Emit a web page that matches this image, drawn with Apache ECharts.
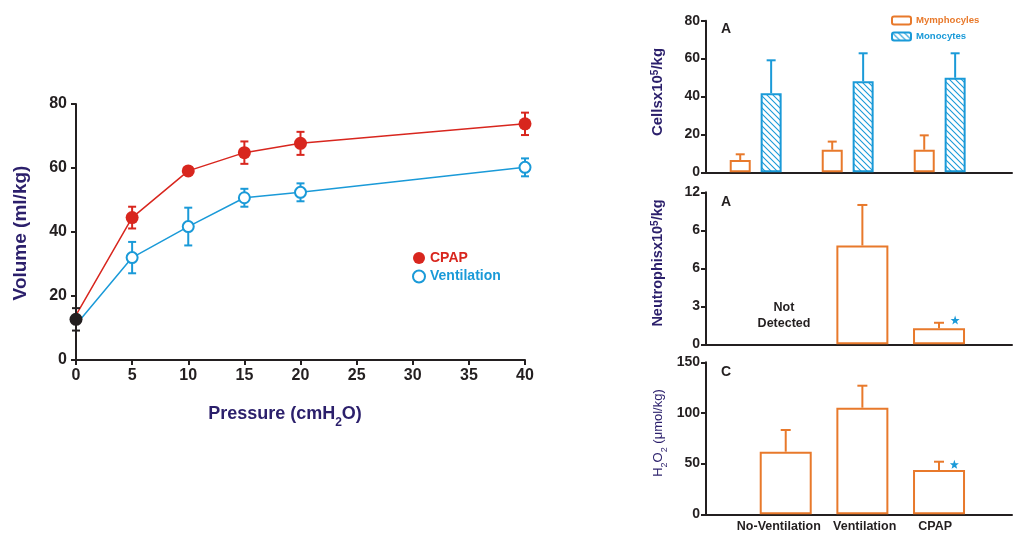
<!DOCTYPE html>
<html>
<head>
<meta charset="utf-8">
<script src="https://cdn.jsdelivr.net/npm/echarts@6/dist/echarts.min.js"></script>
<style>
  html, body { margin: 0; padding: 0; background: #fff; }
  #main { width: 1013px; height: 539px; }
</style>
</head>
<body>
<div id="main"></div>
<script>
// ---- data ----
// left: volume vs pressure
const pressure = [0, 5, 10, 15, 20, 40];
const cpapVolume = [14, 44.5, 59.1, 64.8, 67.7, 73.8];
const cpapErr = [0, 3.4, 1, 3.5, 3.6, 3.5];
const ventVolume = [11, 32.0, 41.7, 50.7, 52.4, 60.2];
const ventErr = [0, 4.9, 5.9, 2.8, 2.8, 2.8];
const baseVolume = [12.7];
const baseErr = [3.5];

// right top: cells
const cellGroups = [1, 2, 3];
const lymphocytes = [6.5, 11.9, 11.9];
const lymphErr = [3.0, 4.3, 7.6];
const monocytes = [41.7, 48.0, 49.9];
const monoErr = [17.4, 14.8, 12.9];

// right middle / bottom
const groups = ['No-Ventilation', 'Ventilation', 'CPAP'];
const neutrophils = [null, 7.8, 1.26];
const neutErr = [null, 3.2, 0.44];
const neutTicks = ['0', '3', '6', '6', '12'];
const h2o2 = [61.8, 105.2, 43.7];
const h2o2Err = [21.4, 21.7, 8.2];
const neutStar = [[3.21, 1.92]];
const h2o2Star = [[3.20, 49.3]];

const RED = '#d8261e';
const BLUE = '#1a9ad8';
const ORANGE = '#e8792b';
const INK = '#231f20';
const NAVY = '#2b1f6b';
const FONT = '"Liberation Sans", Arial, sans-serif';
const STAR = 'path://M12 0 L15 9 L24 9 L17 14.5 L19.5 23 L12 18 L4.5 23 L7 14.5 L0 9 L9 9 Z';
// where the category names sit under the bottom panel (slightly off the bar centres, as printed)
const labelPos = [0.91, 2.03, 2.95];

// hatch pattern for monocytes
function hatch() {
    const c = document.createElement('canvas');
    c.width = 6; c.height = 6;
    const g = c.getContext('2d');
    g.fillStyle = '#fff';
    g.fillRect(0, 0, 6, 6);
    g.strokeStyle = BLUE;
    g.lineWidth = 1.1;
    g.beginPath();
    g.moveTo(-1, -1); g.lineTo(7, 7);
    g.moveTo(-4, 2); g.lineTo(4, 10);
    g.moveTo(2, -4); g.lineTo(10, 4);
    g.stroke();
    return { image: c, repeat: 'repeat' };
}

// error bar drawn through the axes
function errRender(color, cap) {
    return function (params, api) {
        const x = api.value(0), lo = api.value(1), hi = api.value(2), both = api.value(3);
        const a = api.coord([x, hi]);
        const b = api.coord([x, lo]);
        const st = () => ({ stroke: color, lineWidth: 2 });
        const ch = [
            { type: 'line', shape: { x1: a[0], y1: a[1], x2: b[0], y2: b[1] }, style: st() },
            { type: 'line', shape: { x1: a[0] - cap, y1: a[1], x2: a[0] + cap, y2: a[1] }, style: st() }
        ];
        if (both) {
            ch.push({ type: 'line', shape: { x1: b[0] - cap, y1: b[1], x2: b[0] + cap, y2: b[1] }, style: st() });
        }
        return { type: 'group', children: ch };
    };
}

function errSeries(name, xi, yi, data, color, cap, z) {
    return {
        name: name, type: 'custom', xAxisIndex: xi, yAxisIndex: yi, z: z || 1,
        renderItem: errRender(color, cap),
        encode: { x: 0, y: [1, 2] },
        data: data, silent: true
    };
}

const cpapErrData = pressure.map((p, i) => [p, cpapVolume[i] - cpapErr[i], cpapVolume[i] + cpapErr[i], 1]).slice(1);
const ventErrData = pressure.map((p, i) => [p, ventVolume[i] - ventErr[i], ventVolume[i] + ventErr[i], 1]).slice(1);
const baseErrData = baseVolume.map((v, i) => [0, v - baseErr[i], v + baseErr[i], 1]);

const lymphX = cellGroups.map(g => g - 0.168);
const monoX = cellGroups.map(g => g + 0.168);

const axisLine = { show: true, onZero: false, lineStyle: { color: INK, width: 2 } };
const tickLabel = (size) => ({ color: INK, fontWeight: 'bold', fontSize: size, fontFamily: FONT });

function rightX(idx, min, max, labels) {
    return {
        type: 'value', gridIndex: idx, min: min, max: max,
        axisLine: axisLine, axisTick: { show: false }, splitLine: { show: false },
        axisLabel: labels ? Object.assign(tickLabel(12.5), {
            margin: 6, customValues: labelPos,
            formatter: v => {
                const i = labelPos.findIndex(p => Math.abs(p - v) < 0.05);
                return i >= 0 ? groups[i] : '';
            }
        }) : { show: false }
    };
}
function rightY(idx, max, interval, fmt) {
    return {
        type: 'value', gridIndex: idx, min: 0, max: max, interval: interval,
        axisLine: axisLine, axisTick: { show: true, length: 5, lineStyle: { color: INK, width: 2 } },
        splitLine: { show: false },
        axisLabel: Object.assign(tickLabel(14), { margin: 6 }, fmt ? { formatter: fmt } : {})
    };
}

const chart = echarts.init(document.getElementById('main'));
const option = {
    animation: false,
    textStyle: { fontFamily: FONT },
    grid: [
        { left: 76, top: 104, width: 449, height: 256, outerBoundsMode: 'none' },
        { left: 706, top: 20.7, width: 306, height: 151.6, outerBoundsMode: 'none' },
        { left: 706, top: 192.3, width: 306, height: 152, outerBoundsMode: 'none' },
        { left: 706, top: 362.3, width: 306, height: 152, outerBoundsMode: 'none' }
    ],
    xAxis: [
        {
            type: 'value', gridIndex: 0, min: 0, max: 40, interval: 5,
            axisLine: axisLine, axisTick: { show: true, length: 5, lineStyle: { color: INK, width: 2 } },
            splitLine: { show: false },
            axisLabel: Object.assign(tickLabel(16), { margin: 8 })
        },
        rightX(1, 0.46, 3.786, false),
        rightX(2, -0.04, 3.952, false),
        rightX(3, -0.04, 3.952, true)
    ],
    yAxis: [
        {
            type: 'value', gridIndex: 0, min: 0, max: 80, interval: 20,
            axisLine: axisLine, axisTick: { show: true, length: 5, lineStyle: { color: INK, width: 2 } },
            splitLine: { show: false },
            axisLabel: Object.assign(tickLabel(16), { margin: 9 })
        },
        rightY(1, 80, 20),
        rightY(2, 12, 3, v => neutTicks[Math.round(v / 3)]),
        rightY(3, 150, 50)
    ],
    legend: [
        {
            orient: 'vertical', left: 407, top: 246, itemWidth: 12, itemHeight: 12, itemGap: 4.5,
            textStyle: { fontSize: 14, fontWeight: 'bold', fontFamily: FONT },
            data: [
                { name: 'CPAP', icon: 'circle', textStyle: { color: RED } },
                { name: 'Ventilation', icon: 'emptyCircle', textStyle: { color: BLUE } }
            ],
            selectedMode: false
        },
        {
            orient: 'vertical', left: 886, top: 10.5, itemWidth: 19, itemHeight: 8, itemGap: 6,
            textStyle: { fontSize: 9.6, fontWeight: 'bold', fontFamily: FONT },
            data: [
                { name: 'Mymphocyles', textStyle: { color: ORANGE } },
                { name: 'Monocytes', textStyle: { color: BLUE } }
            ],
            selectedMode: false
        }
    ],
    series: [
        errSeries('cpapErr', 0, 0, cpapErrData, RED, 4),
        errSeries('ventErr', 0, 0, ventErrData, BLUE, 4),
        {
            name: 'CPAP', type: 'line', xAxisIndex: 0, yAxisIndex: 0, z: 2,
            data: pressure.map((p, i) => i === 0 ? { value: [p, cpapVolume[i]], symbol: 'none' } : [p, cpapVolume[i]]),
            symbol: 'circle', symbolSize: 13,
            itemStyle: { color: RED },
            lineStyle: { color: RED, width: 1.5 }
        },
        {
            name: 'Ventilation', type: 'line', xAxisIndex: 0, yAxisIndex: 0, z: 2,
            data: pressure.map((p, i) => i === 0 ? { value: [p, ventVolume[i]], symbol: 'none' } : [p, ventVolume[i]]),
            symbol: 'emptyCircle', symbolSize: 11,
            itemStyle: { color: BLUE, borderColor: BLUE, borderWidth: 2 },
            lineStyle: { color: BLUE, width: 1.5 }
        },
        errSeries('baseErr', 0, 0, baseErrData, INK, 4, 3),
        {
            name: 'Baseline', type: 'scatter', xAxisIndex: 0, yAxisIndex: 0, z: 4,
            data: baseVolume.map(v => [0, v]),
            symbol: 'circle', symbolSize: 13, itemStyle: { color: INK, opacity: 1 }
        },

        // cells panel
        {
            name: 'Mymphocyles', type: 'bar', xAxisIndex: 1, yAxisIndex: 1,
            data: lymphX.map((x, i) => [x, lymphocytes[i]]),
            barWidth: 21, barGap: '-100%',
            itemStyle: { color: '#fff', borderColor: ORANGE, borderWidth: 2 }
        },
        {
            name: 'Monocytes', type: 'bar', xAxisIndex: 1, yAxisIndex: 1,
            data: monoX.map((x, i) => [x, monocytes[i]]),
            barWidth: 21, barGap: '-100%',
            itemStyle: { color: hatch(), borderColor: BLUE, borderWidth: 2 }
        },
        errSeries('lymphErr', 1, 1, lymphX.map((x, i) => [x, lymphocytes[i], lymphocytes[i] + lymphErr[i], 0]), ORANGE, 4.5),
        errSeries('monoErr', 1, 1, monoX.map((x, i) => [x, monocytes[i], monocytes[i] + monoErr[i], 0]), BLUE, 4.5),

        // neutrophils panel
        {
            name: 'Neutrophils', type: 'bar', xAxisIndex: 2, yAxisIndex: 2,
            data: groups.map((g, i) => [i + 1, neutrophils[i]]).filter(d => d[1] !== null),
            barWidth: 52,
            itemStyle: { color: '#fff', borderColor: ORANGE, borderWidth: 2 }
        },
        errSeries('neutErr', 2, 2, groups.map((g, i) => [i + 1, neutrophils[i], neutrophils[i] + neutErr[i], 0]).filter(d => d[1] !== null), ORANGE, 5),
        {
            name: 'neutStar', type: 'scatter', xAxisIndex: 2, yAxisIndex: 2,
            data: neutStar, symbol: STAR, symbolSize: 9, itemStyle: { color: BLUE, opacity: 1 }
        },

        // H2O2 panel
        {
            name: 'H2O2', type: 'bar', xAxisIndex: 3, yAxisIndex: 3,
            data: groups.map((g, i) => [i + 1, h2o2[i]]),
            barWidth: 52,
            itemStyle: { color: '#fff', borderColor: ORANGE, borderWidth: 2 }
        },
        errSeries('h2o2Err', 3, 3, groups.map((g, i) => [i + 1, h2o2[i], h2o2[i] + h2o2Err[i], 0]), ORANGE, 5),
        {
            name: 'h2o2Star', type: 'scatter', xAxisIndex: 3, yAxisIndex: 3,
            data: h2o2Star, symbol: STAR, symbolSize: 9, itemStyle: { color: BLUE, opacity: 1 }
        }
    ],
    graphic: [
        {
            type: 'text', x: 21, y: 233, rotation: Math.PI / 2,
            style: { text: 'Volume (ml/kg)', fill: NAVY, font: 'bold 19px ' + FONT, align: 'center', verticalAlign: 'middle' }
        },
        {
            type: 'text', x: 285, y: 414,
            style: {
                text: '{m|Pressure (cmH}{s|2}{m|O)}', align: 'center', verticalAlign: 'middle',
                rich: {
                    m: { fill: NAVY, fontSize: 18, fontWeight: 'bold', fontFamily: FONT },
                    s: { fill: NAVY, fontSize: 12, fontWeight: 'bold', fontFamily: FONT, lineHeight: 12, padding: [12, 0, 0, 0], verticalAlign: 'top' }
                }
            }
        },
        {
            type: 'text', x: 658, y: 92, rotation: Math.PI / 2,
            style: {
                text: '{m|Cellsx10}{p|5}{m|/kg}', align: 'center', verticalAlign: 'middle',
                rich: {
                    m: { fill: NAVY, fontSize: 15, fontWeight: 'bold', fontFamily: FONT },
                    p: { fill: NAVY, fontSize: 10, fontWeight: 'bold', fontFamily: FONT, verticalAlign: 'top' }
                }
            }
        },
        {
            type: 'text', x: 658, y: 263, rotation: Math.PI / 2,
            style: {
                text: '{m|Neutrophisx10}{p|5}{m|/kg}', align: 'center', verticalAlign: 'middle',
                rich: {
                    m: { fill: NAVY, fontSize: 14.5, fontWeight: 'bold', fontFamily: FONT },
                    p: { fill: NAVY, fontSize: 10, fontWeight: 'bold', fontFamily: FONT, verticalAlign: 'top' }
                }
            }
        },
        {
            type: 'text', x: 658, y: 433, rotation: Math.PI / 2,
            style: {
                text: '{m|H}{s|2}{m|O}{s|2}{m| (μmol/kg)}', align: 'center', verticalAlign: 'middle',
                rich: {
                    m: { fill: NAVY, fontSize: 13, fontFamily: FONT },
                    s: { fill: NAVY, fontSize: 9, fontFamily: FONT, lineHeight: 9, padding: [9, 0, 0, 0], verticalAlign: 'top' }
                }
            }
        },
        { type: 'text', x: 726, y: 29, style: { text: 'A', fill: INK, font: 'bold 14px ' + FONT, align: 'center', verticalAlign: 'middle' } },
        { type: 'text', x: 726, y: 202, style: { text: 'A', fill: INK, font: 'bold 14px ' + FONT, align: 'center', verticalAlign: 'middle' } },
        { type: 'text', x: 726, y: 372, style: { text: 'C', fill: INK, font: 'bold 14px ' + FONT, align: 'center', verticalAlign: 'middle' } },
        {
            type: 'text', x: 784, y: 316,
            style: { text: 'Not\nDetected', fill: INK, font: 'bold 12.5px ' + FONT, align: 'center', verticalAlign: 'middle', lineHeight: 16 }
        }
    ]
};
chart.setOption(option);
</script>
</body>
</html>
